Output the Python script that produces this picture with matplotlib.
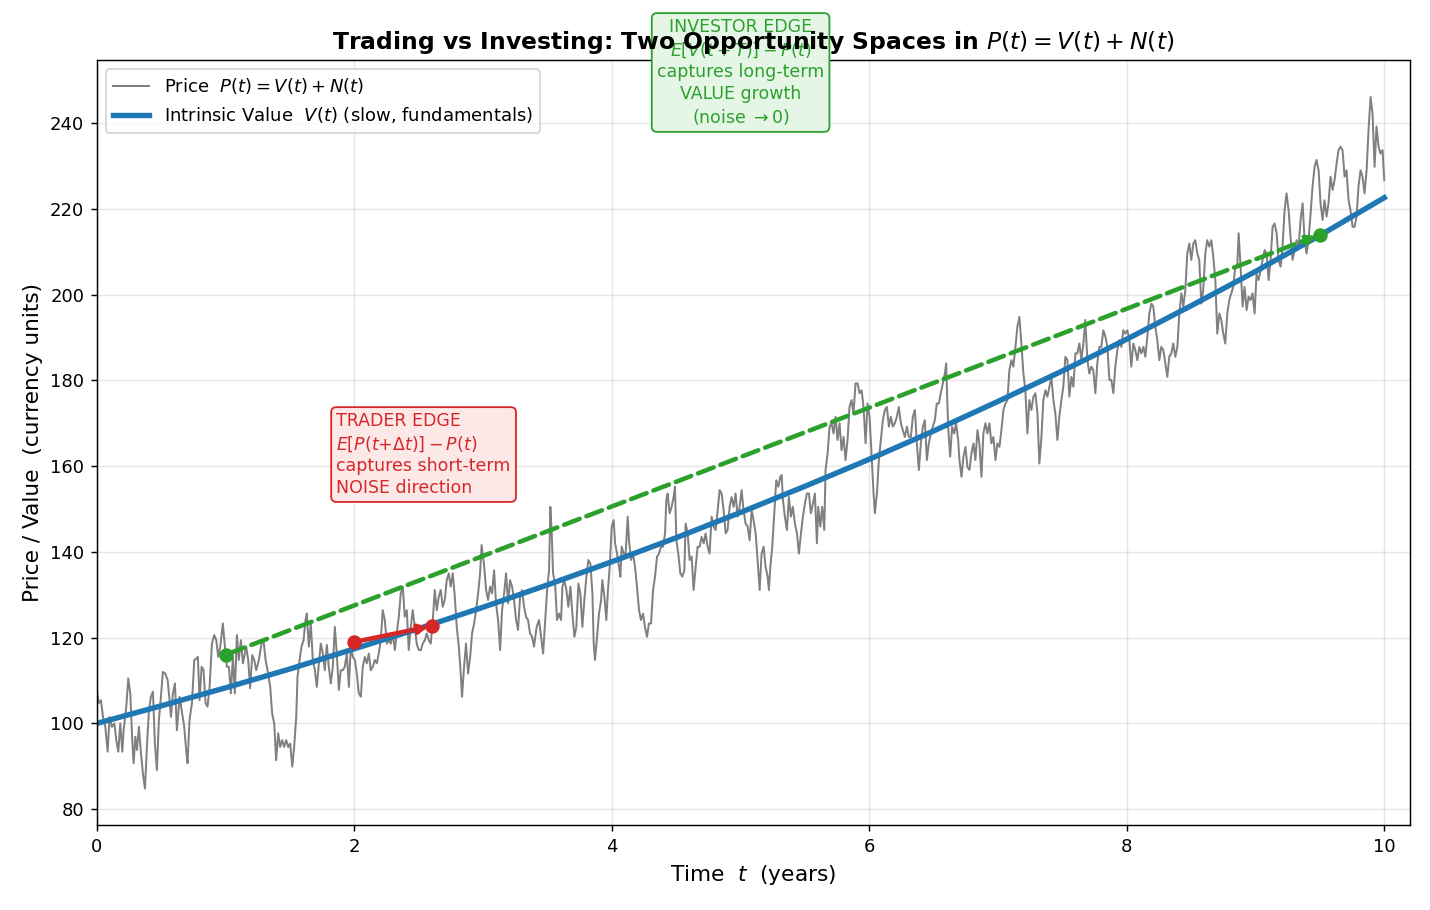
import numpy as np
import matplotlib.pyplot as plt

value_t = [0.0, 0.5, 1.0, 1.5, 2.0, 2.5, 3.0, 3.5, 4.0, 4.5, 5.0,
           5.5, 6.0, 6.5, 7.0, 7.5, 8.0, 8.5, 9.0, 9.5, 10.0]
value_v = [100.0, 104.1, 108.3, 112.7, 117.4, 122.1, 127.1, 132.3, 137.7, 143.3, 149.2,
           155.3, 161.6, 168.2, 175.1, 182.2, 189.6, 197.4, 205.4, 213.8, 222.6]

# observed price P(t), traced peak to trough
price_t = [
    0.000, 0.013, 0.031, 0.047, 0.065, 0.083, 0.098, 0.116, 0.135, 0.150,
    0.166, 0.181, 0.197, 0.207, 0.228, 0.243, 0.259, 0.274, 0.285, 0.298,
    0.311, 0.326, 0.342, 0.357, 0.373, 0.388, 0.404, 0.419, 0.435, 0.450,
    0.466, 0.481, 0.497, 0.512, 0.531, 0.549, 0.564, 0.575, 0.590, 0.606,
    0.621, 0.642, 0.660, 0.678, 0.694, 0.704, 0.719, 0.738, 0.756, 0.771,
    0.784, 0.797, 0.813, 0.828, 0.844, 0.859, 0.875, 0.893, 0.911, 0.927,
    0.942, 0.958, 0.978, 0.994, 1.009, 1.025, 1.040, 1.056, 1.071, 1.087,
    1.102, 1.118, 1.134, 1.144, 1.159, 1.175, 1.190, 1.206, 1.222, 1.237,
    1.258, 1.278, 1.294, 1.310, 1.325, 1.346, 1.361, 1.377, 1.392, 1.408,
    1.423, 1.439, 1.454, 1.470, 1.486, 1.501, 1.517, 1.532, 1.548, 1.558,
    1.574, 1.589, 1.605, 1.620, 1.630, 1.646, 1.661, 1.677, 1.693, 1.708,
    1.724, 1.739, 1.755, 1.770, 1.786, 1.801, 1.817, 1.832, 1.848, 1.863,
    1.879, 1.894, 1.910, 1.925, 1.941, 1.957, 1.972, 1.988, 2.003, 2.019,
    2.034, 2.050, 2.065, 2.081, 2.096, 2.112, 2.127, 2.143, 2.158, 2.174,
    2.189, 2.205, 2.220, 2.236, 2.252, 2.267, 2.283, 2.298, 2.314, 2.329,
    2.345, 2.360, 2.376, 2.391, 2.407, 2.422, 2.438, 2.453, 2.469, 2.484,
    2.500, 2.516, 2.531, 2.547, 2.562, 2.578, 2.593, 2.609, 2.624, 2.640,
    2.655, 2.671, 2.686, 2.702, 2.717, 2.733, 2.748, 2.764, 2.780, 2.795,
    2.811, 2.826, 2.836, 2.852, 2.867, 2.883, 2.899, 2.914, 2.930, 2.945,
    2.961, 2.976, 2.988, 3.007, 3.023, 3.038, 3.054, 3.069, 3.085, 3.100,
    3.116, 3.132, 3.147, 3.163, 3.178, 3.194, 3.209, 3.225, 3.240, 3.256,
    3.271, 3.287, 3.302, 3.318, 3.333, 3.349, 3.364, 3.380, 3.395, 3.416,
    3.434, 3.450, 3.466, 3.481, 3.497, 3.512, 3.522, 3.533, 3.543, 3.559,
    3.574, 3.590, 3.605, 3.616, 3.631, 3.647, 3.662, 3.678, 3.693, 3.709,
    3.724, 3.740, 3.755, 3.771, 3.786, 3.802, 3.817, 3.833, 3.849, 3.859,
    3.869, 3.885, 3.900, 3.916, 3.926, 3.942, 3.957, 3.968, 3.983, 3.999,
    4.014, 4.025, 4.040, 4.056, 4.066, 4.076, 4.092, 4.107, 4.123, 4.133,
    4.149, 4.164, 4.180, 4.195, 4.211, 4.226, 4.242, 4.257, 4.273, 4.288,
    4.304, 4.320, 4.335, 4.351, 4.366, 4.382, 4.397, 4.413, 4.423, 4.433,
    4.449, 4.464, 4.480, 4.490, 4.501, 4.516, 4.532, 4.547, 4.563, 4.573,
    4.589, 4.604, 4.620, 4.635, 4.651, 4.666, 4.682, 4.697, 4.713, 4.728,
    4.744, 4.759, 4.775, 4.791, 4.806, 4.822, 4.837, 4.853, 4.868, 4.884,
    4.899, 4.915, 4.930, 4.946, 4.961, 4.977, 4.992, 5.008, 5.023, 5.039,
    5.055, 5.070, 5.086, 5.101, 5.117, 5.132, 5.148, 5.163, 5.179, 5.194,
    5.210, 5.220, 5.231, 5.246, 5.262, 5.277, 5.293, 5.308, 5.319, 5.329,
    5.344, 5.360, 5.375, 5.391, 5.406, 5.422, 5.438, 5.453, 5.469, 5.484,
    5.500, 5.515, 5.531, 5.546, 5.562, 5.577, 5.593, 5.603, 5.619, 5.634,
    5.650, 5.660, 5.676, 5.691, 5.707, 5.722, 5.738, 5.753, 5.769, 5.784,
    5.800, 5.815, 5.831, 5.846, 5.862, 5.877, 5.893, 5.909, 5.924, 5.940,
    5.955, 5.971, 5.986, 6.002, 6.017, 6.033, 6.043, 6.059, 6.074, 6.090,
    6.105, 6.121, 6.136, 6.152, 6.167, 6.183, 6.198, 6.214, 6.229, 6.245,
    6.260, 6.276, 6.292, 6.307, 6.323, 6.338, 6.354, 6.369, 6.385, 6.400,
    6.416, 6.431, 6.447, 6.462, 6.478, 6.493, 6.509, 6.524, 6.540, 6.555,
    6.571, 6.587, 6.597, 6.612, 6.628, 6.643, 6.659, 6.674, 6.690, 6.700,
    6.716, 6.731, 6.747, 6.762, 6.778,
    6.793, 6.809, 6.824, 6.840, 6.855, 6.871, 6.886, 6.902, 6.917, 6.933,
    6.948, 6.964, 6.980, 6.995, 7.011, 7.026, 7.042, 7.057, 7.073, 7.088,
    7.104, 7.119, 7.135, 7.150, 7.166, 7.181, 7.197, 7.212, 7.228, 7.243,
    7.259, 7.275, 7.290, 7.306, 7.321, 7.337, 7.352, 7.368, 7.383, 7.399,
    7.414, 7.430, 7.445, 7.461, 7.476, 7.492, 7.507, 7.523, 7.539, 7.554,
    7.570, 7.585, 7.601, 7.616, 7.632, 7.647, 7.663, 7.678, 7.694, 7.709,
    7.725, 7.740, 7.756, 7.771, 7.787, 7.802, 7.818, 7.834, 7.849, 7.865,
    7.880, 7.896, 7.911, 7.927, 7.942, 7.958, 7.973, 7.989, 8.004, 8.020,
    8.035, 8.051, 8.066, 8.082, 8.098, 8.113, 8.129, 8.144, 8.160, 8.175,
    8.191, 8.206, 8.222, 8.237, 8.253, 8.268, 8.284, 8.299, 8.315, 8.330,
    8.346, 8.361, 8.377, 8.393, 8.408, 8.424, 8.439, 8.455, 8.470, 8.486,
    8.501, 8.517, 8.532, 8.548, 8.563, 8.579, 8.594, 8.610, 8.625, 8.641,
    8.657, 8.672, 8.688, 8.703, 8.719, 8.734, 8.750, 8.765, 8.781, 8.796,
    8.812, 8.827, 8.843, 8.858, 8.869, 8.884, 8.900, 8.915, 8.931, 8.946,
    8.962, 8.977, 8.993, 9.008, 9.024, 9.040, 9.055, 9.071, 9.086, 9.102,
    9.117, 9.133, 9.148, 9.164, 9.179, 9.195, 9.210, 9.226, 9.241, 9.257,
    9.272, 9.288, 9.304, 9.319, 9.335, 9.350, 9.366, 9.381, 9.397, 9.412,
    9.428, 9.443, 9.459, 9.474, 9.490, 9.505, 9.521, 9.536, 9.552, 9.567,
    9.583, 9.599, 9.614, 9.630, 9.645, 9.661, 9.676, 9.692, 9.707, 9.723,
    9.738, 9.754, 9.769, 9.785, 9.800, 9.816, 9.831, 9.847, 9.863, 9.878,
    9.894, 9.909, 9.925, 9.940, 9.956, 9.971, 9.987, 10.000,
]
price_v = [
    107.8, 104.7, 105.4, 101.5, 99.2, 93.4, 101.5, 99.2, 100.0, 96.1,
    93.4, 100.0, 93.4, 98.4, 103.9, 110.5, 107.0, 96.1, 90.7, 96.9,
    93.8, 99.2, 93.0, 88.3, 84.8, 94.5, 103.1, 106.2, 107.4, 95.3,
    89.1, 100.8, 106.2, 112.0, 111.6, 110.1, 105.4, 101.5, 107.0, 109.3,
    98.4, 106.2, 102.7, 99.2, 93.4, 90.7, 100.8, 104.7, 114.8, 115.1,
    115.5, 105.4, 113.2, 112.4, 104.7, 103.9, 108.5, 118.6, 120.6, 119.4,
    115.5, 117.9, 123.3, 117.9, 113.2, 113.2, 107.0, 115.5, 107.0, 120.6,
    114.8, 119.4, 114.0, 115.5, 117.9, 114.8, 108.2, 115.9, 114.8, 112.4,
    114.8, 118.6, 119.4, 114.8, 112.4, 108.5, 102.3, 100.0, 91.4, 97.7,
    94.5, 96.1, 94.5, 96.1, 94.5, 95.3, 89.9, 94.5, 101.5, 110.9,
    114.8, 117.9, 119.4, 124.1, 125.6, 117.9, 123.3, 114.8, 112.4, 108.5,
    114.0, 118.6, 116.3, 112.4, 118.3, 113.2, 109.3, 113.2, 122.5, 116.3,
    107.8, 112.4, 112.4, 113.2, 116.3, 108.5, 117.9, 115.5, 114.8, 111.6,
    107.0, 106.2, 113.2, 115.5, 114.0, 116.3, 112.4, 113.2, 114.8, 114.0,
    116.3, 119.4, 126.4, 124.1, 118.6, 119.4, 118.6, 121.0, 117.1, 121.0,
    124.9, 130.3, 131.9, 124.9, 126.4, 117.1, 122.5, 126.4, 122.5, 118.6,
    117.1, 117.1, 118.6, 119.4, 121.0, 119.4, 118.6, 124.1, 131.1, 126.4,
    129.5, 131.1, 127.2, 128.8, 133.4, 135.0, 131.9, 135.0, 129.5, 122.5,
    117.9, 111.6, 106.2, 113.2, 118.6, 111.6, 115.5, 121.0, 123.3, 126.4,
    130.3, 135.0, 141.6, 137.0, 131.1, 128.8, 131.9, 130.3, 135.7, 128.0,
    124.1, 117.1, 126.4, 130.3, 135.0, 128.0, 133.4, 131.9, 128.8, 124.1,
    121.8, 129.5, 131.1, 127.2, 124.9, 124.1, 121.0, 120.2, 117.9, 122.5,
    124.1, 120.2, 116.3, 123.3, 131.1, 135.7, 150.5, 144.3, 135.0, 132.6,
    124.1, 125.6, 124.1, 131.9, 133.4, 131.1, 127.2, 131.9, 125.6, 120.2,
    122.5, 132.6, 130.3, 122.5, 128.7, 134.2, 138.1, 137.3, 130.3, 118.6,
    114.8, 120.2, 125.6, 128.7, 133.4, 129.5, 124.1, 130.3, 136.5, 145.9,
    147.4, 142.0, 139.6, 136.5, 134.2, 141.2, 139.6, 139.6, 148.2, 142.7,
    138.1, 139.6, 136.5, 131.9, 126.4, 124.1, 125.6, 122.5, 120.2, 123.3,
    123.3, 131.1, 134.2, 138.9, 139.6, 141.2, 141.2, 144.3, 152.1, 153.6,
    149.0, 150.5, 152.8, 155.2, 142.7, 139.6, 135.0, 134.2, 135.7, 146.6,
    144.3, 138.1, 138.9, 131.1, 136.5, 141.2, 141.2, 143.5, 142.0, 144.3,
    141.2, 139.6, 148.2, 145.9, 145.1, 149.7, 154.4, 153.6, 149.7, 144.3,
    145.1, 150.5, 152.8, 150.5, 153.6, 148.2, 150.5, 154.4, 149.7, 146.6,
    145.9, 142.7, 149.7, 147.4, 144.3, 138.1, 131.1, 139.6, 141.2, 136.5,
    134.2, 131.1, 136.5, 141.2, 149.0, 156.7, 155.2, 157.5, 157.9, 152.1,
    148.2, 145.1, 152.8, 148.2, 150.5, 146.6, 144.3, 139.6, 144.3, 148.2,
    151.3, 153.6, 153.6, 149.0, 151.3, 153.6, 142.0, 150.5, 145.9, 150.5,
    145.1, 159.1, 163.0, 169.2, 170.0, 167.6, 171.5, 166.1, 170.0, 163.7,
    166.8, 161.4, 166.1, 173.8, 175.4, 172.3, 179.3, 179.3, 177.0, 177.7,
    173.8, 165.3, 174.6, 171.5, 163.0, 153.6, 149.0, 153.6, 161.4, 166.1,
    170.7, 173.1, 173.8, 169.2, 171.5, 169.2, 170.0, 171.5, 173.8, 170.0,
    168.4, 166.8, 169.2, 166.8, 166.8, 171.5, 173.1, 165.3, 159.1, 165.3,
    169.2, 170.7, 161.4, 165.3, 167.6, 169.2, 170.7, 174.6, 174.6, 177.0,
    179.3, 181.6, 183.9, 169.2, 162.2, 169.2, 167.6, 170.0, 166.1, 161.4,
    157.5, 162.2, 164.5, 159.8, 159.1,
    163.0, 165.3, 161.4, 168.4, 165.3, 157.5, 167.6, 170.0, 167.6, 170.0,
    165.3, 166.8, 161.4, 165.3, 164.5, 168.4, 173.1, 174.6, 175.4, 182.4,
    184.7, 183.2, 187.8, 192.5, 194.8, 188.6, 181.6, 177.7, 167.6, 175.4,
    173.1, 176.2, 177.0, 172.3, 160.6, 166.8, 175.4, 177.7, 176.2, 178.5,
    180.8, 175.4, 172.3, 166.1, 171.5, 175.4, 178.5, 185.5, 184.7, 176.2,
    180.8, 178.5, 186.3, 186.3, 188.6, 184.7, 188.6, 194.1, 184.7, 181.6,
    183.2, 182.4, 177.0, 184.0, 187.8, 187.8, 191.7, 190.2, 187.8, 180.1,
    180.1, 177.0, 183.2, 187.1, 189.4, 187.8, 191.7, 190.9, 191.7, 189.4,
    183.2, 188.6, 187.1, 184.7, 187.8, 186.3, 187.8, 185.5, 190.2, 195.6,
    197.9, 197.2, 192.5, 189.4, 184.7, 187.8, 187.1, 184.0, 180.8, 185.5,
    186.3, 188.6, 185.5, 187.8, 195.6, 200.3, 197.2, 201.1, 209.6, 211.9,
    208.1, 211.9, 212.7, 209.6, 208.1, 197.9, 201.1, 209.6, 212.7, 211.2,
    212.7, 208.8, 203.4, 190.9, 195.6, 194.1, 190.9, 188.6, 195.6, 198.7,
    200.3, 201.8, 206.5, 206.5, 214.3, 206.5, 197.2, 201.8, 196.4, 199.5,
    198.7, 200.3, 195.6, 204.9, 203.4, 205.7, 208.1, 210.4, 209.6, 203.4,
    208.1, 215.8, 216.6, 214.3, 208.1, 206.5, 211.2, 219.7, 223.6, 219.7,
    213.5, 208.1, 210.4, 212.7, 211.2, 217.4, 221.3, 212.7, 209.6, 212.7,
    218.9, 225.2, 229.8, 231.4, 229.0, 221.3, 217.4, 222.0, 218.2, 221.3,
    227.5, 224.4, 226.7, 230.6, 233.7, 234.5, 233.7, 227.5, 229.0, 222.0,
    219.7, 215.8, 215.8, 218.2, 225.2, 229.0, 227.5, 223.6, 229.0, 238.4,
    246.1, 242.3, 229.8, 239.2, 234.5, 232.9, 233.7, 226.7,
]

# the two "edges": start and end points of each arrow
trader_t = [2.0, 2.6]
trader_v = [119.0, 122.7]
investor_t = [1.0, 9.5]
investor_v = [116.0, 214.0]

fig, ax = plt.subplots(figsize=(11, 7), dpi=130)
fig.subplots_adjust(left=0.0678, right=0.986, bottom=0.0934, top=0.934)

ax.plot(price_t, price_v, color='gray', lw=1.1,
        label=r'Price  $P(t) = V(t) + N(t)$')
ax.plot(value_t, value_v, color='tab:blue', lw=3,
        label=r'Intrinsic Value  $V(t)$ (slow, fundamentals)')

# trader: short hop on the noise
ax.annotate('', xy=(trader_t[1], trader_v[1]), xytext=(trader_t[0], trader_v[0]),
            arrowprops=dict(arrowstyle='->', color='tab:red', lw=2.5))
ax.plot(trader_t, trader_v, 'o', color='tab:red', ms=7)

# investor: long ride on the value
ax.annotate('', xy=(investor_t[1], investor_v[1]), xytext=(investor_t[0], investor_v[0]),
            arrowprops=dict(arrowstyle='->', color='tab:green', lw=2.5, ls='--'))
ax.plot(investor_t, investor_v, 'o', color='tab:green', ms=7)

ax.text(1.86, 162.7,
        'TRADER EDGE\n$E[P(t{+}\\Delta t)] - P(t)$\ncaptures short-term\nNOISE direction',
        color='tab:red', fontsize=9.6, ha='left', va='center', linespacing=1.25,
        bbox=dict(boxstyle='round,pad=0.3', fc='#fde8e8', ec='tab:red'))
ax.text(5.0, 251.8,
        'INVESTOR EDGE\n$E[V(t+T)] - P(t)$\ncaptures long-term\nVALUE growth\n(noise $\\to 0$)',
        color='tab:green', fontsize=9.6, ha='center', va='center', multialignment='center',
        linespacing=1.25,
        bbox=dict(boxstyle='round,pad=0.3', fc='#e6f6e6', ec='tab:green'))

ax.set_xlim(0, 10.2)
ax.set_ylim(76.3, 254.7)
ax.set_xlabel('Time  $t$  (years)', fontsize=12)
ax.set_ylabel('Price / Value  (currency units)', fontsize=12)
ax.set_title('Trading vs Investing: Two Opportunity Spaces in $P(t) = V(t) + N(t)$',
             fontsize=13, fontweight='bold')
ax.grid(alpha=0.3)
ax.legend(loc='upper left', fontsize=10)

fig.savefig('out.png', dpi=130)
